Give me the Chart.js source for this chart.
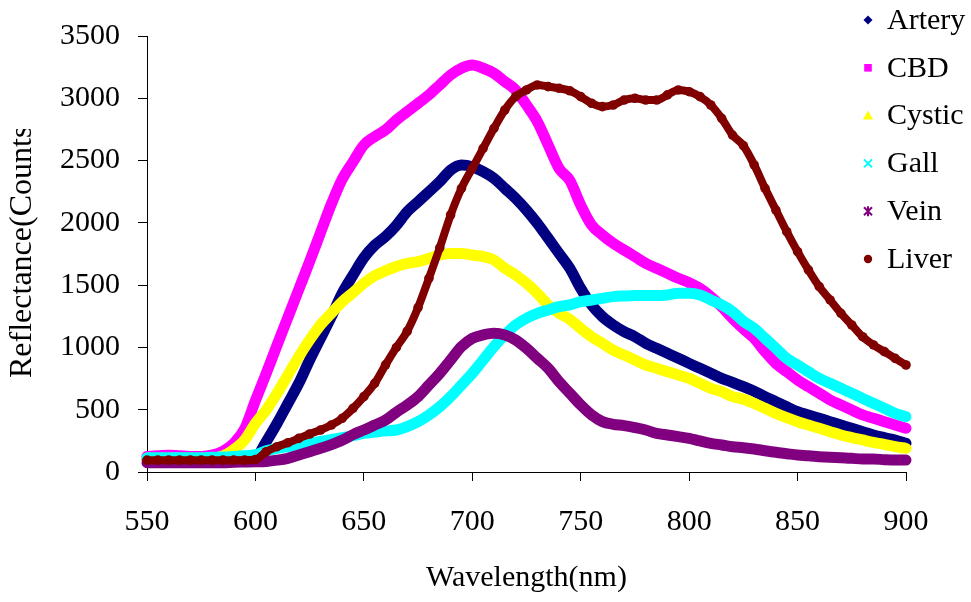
<!DOCTYPE html>
<html>
<head>
<meta charset="utf-8">
<title>Reflectance spectra</title>
<script src="https://cdn.jsdelivr.net/npm/chart.js@4.4.1/dist/chart.umd.min.js"></script>
<style>
  html, body { margin: 0; padding: 0; background: #fff; }
  canvas { display: block; }
</style>
</head>
<body>
<canvas id="chart" width="971" height="602"></canvas>
<script>
// Wavelength samples (nm)
const wavelengths = [550,555,560,565,570,575,580,585,590,595,600,605,610,615,620,625,630,635,640,645,650,655,660,665,670,675,680,685,690,695,700,705,710,715,720,725,730,735,740,745,750,755,760,765,770,775,780,785,790,795,800,805,810,815,820,825,830,835,840,845,850,855,860,865,870,875,880,885,890,895,900];

// Reflectance counts per tissue
const artery = [105,105,105,105,105,105,105,105,108,112,120,244,391,551,712,899,1073,1247,1434,1580,1720,1820,1890,1980,2090,2170,2250,2331,2424,2465,2451,2411,2357,2277,2197,2103,1996,1876,1755,1635,1474,1341,1247,1180,1127,1086,1033,993,953,913,872,832,792,752,720,685,648,605,565,524,484,458,431,404,377,351,324,297,276,257,230];
const cbd = [125,130,135,130,125,125,135,165,230,345,573,792,1020,1242,1466,1689,1920,2150,2350,2490,2625,2692,2746,2826,2893,2960,3027,3107,3187,3241,3267,3241,3201,3134,3067,2946,2813,2625,2438,2340,2143,1983,1903,1836,1782,1729,1675,1635,1595,1555,1520,1474,1408,1327,1234,1150,1073,966,872,805,739,685,632,578,538,498,458,431,404,377,351];
const cystic = [110,110,110,110,110,110,112,130,180,257,391,498,632,779,926,1060,1180,1274,1367,1440,1515,1575,1615,1650,1675,1689,1715,1742,1755,1755,1742,1729,1702,1635,1582,1515,1434,1341,1274,1225,1153,1086,1033,979,939,899,859,832,805,779,752,712,672,645,605,585,551,511,471,436,404,377,351,324,297,276,257,238,222,203,190];
const gall = [115,115,115,115,115,115,118,120,125,130,140,170,190,203,215,230,245,260,275,292,310,320,330,337,364,404,458,524,605,698,792,899,1006,1100,1180,1234,1274,1300,1327,1341,1367,1381,1394,1408,1413,1416,1416,1416,1421,1434,1434,1421,1381,1341,1287,1210,1153,1073,993,912,859,805,752,712,672,632,591,551,511,471,444];
const vein = [75,75,75,75,75,75,75,75,78,80,82,85,95,110,136,163,190,220,255,300,337,377,417,480,538,605,698,792,899,1006,1073,1100,1113,1100,1060,993,912,832,725,632,538,458,404,383,372,356,337,310,297,284,270,249,230,217,203,195,185,171,158,147,136,131,123,118,115,110,104,104,99,96,96];
const liver = [95,95,95,95,95,95,95,95,95,95,100,163,203,235,270,305,337,377,431,511,605,712,860,1000,1130,1320,1555,1800,2063,2277,2438,2598,2759,2906,3013,3067,3107,3094,3080,3060,3013,2960,2933,2946,2986,3000,2986,2986,3027,3067,3053,3013,2946,2839,2705,2620,2465,2277,2103,1929,1769,1622,1488,1381,1274,1180,1086,1020,966,912,859];

const seriesNames = ['Artery', 'CBD', 'Cystic', 'Gall', 'Vein', 'Liver'];
const seriesValues = [artery, cbd, cystic, gall, vein, liver];
const seriesColors = ['#000080', '#FF00FF', '#FFFF00', '#00FFFF', '#800080', '#800000'];
const seriesMarkers = ['diamond', 'square', 'triangle', 'cross', 'star', 'circle'];

const xTicks = [550, 600, 650, 700, 750, 800, 850, 900];
const yTicks = [0, 500, 1000, 1500, 2000, 2500, 3000, 3500];
const xTitle = 'Wavelength(nm)';
const yTitle = 'Reflectance(Counts)';

const FONT = '"Liberation Serif", "Times New Roman", Times, serif';

const datasets = seriesNames.map((name, i) => {
  const isLiver = name === 'Liver';
  return {
    label: name,
    data: wavelengths.map((w, k) => ({ x: w, y: seriesValues[i][k] })),
    borderColor: seriesColors[i],
    backgroundColor: seriesColors[i],
    borderWidth: isLiver ? 8 : 11,
    borderCapStyle: 'round',
    borderJoinStyle: 'round',
    cubicInterpolationMode: 'monotone',
    pointRadius: isLiver ? 4.8 : 0,
    pointBorderWidth: 0,
    pointBackgroundColor: seriesColors[i],
    fill: false,
    clip: false,
    // later series paint over earlier ones
    order: seriesNames.length - i
  };
});

function drawMarker(ctx, kind, x, y, color) {
  ctx.save();
  ctx.fillStyle = color;
  ctx.strokeStyle = color;
  ctx.lineWidth = 2;
  ctx.beginPath();
  const r = 4.5;
  switch (kind) {
    case 'diamond':
      ctx.moveTo(x, y - r); ctx.lineTo(x + r, y); ctx.lineTo(x, y + r); ctx.lineTo(x - r, y);
      ctx.closePath(); ctx.fill(); break;
    case 'square':
      ctx.rect(x - 3.8, y - 3.8, 7.6, 7.6); ctx.fill(); break;
    case 'triangle':
      ctx.moveTo(x, y - 5); ctx.lineTo(x + 5, y + 4); ctx.lineTo(x - 5, y + 4);
      ctx.closePath(); ctx.fill(); break;
    case 'cross':
      ctx.moveTo(x - 4, y - 4); ctx.lineTo(x + 4, y + 4);
      ctx.moveTo(x + 4, y - 4); ctx.lineTo(x - 4, y + 4); ctx.stroke(); break;
    case 'star':
      ctx.moveTo(x - 4, y - 4); ctx.lineTo(x + 4, y + 4);
      ctx.moveTo(x + 4, y - 4); ctx.lineTo(x - 4, y + 4);
      ctx.moveTo(x, y - 5); ctx.lineTo(x, y + 5); ctx.stroke(); break;
    default:
      ctx.arc(x, y, 4.2, 0, Math.PI * 2); ctx.fill();
  }
  ctx.restore();
}

// Axis titles and the series key, drawn over the finished chart
const decorations = {
  id: 'decorations',
  afterDraw(chart) {
    const ctx = chart.ctx;
    const area = chart.chartArea;
    ctx.save();
    ctx.fillStyle = '#000';
    ctx.textBaseline = 'middle';

    // x title
    ctx.font = '30px ' + FONT;
    ctx.textAlign = 'center';
    ctx.fillText(xTitle, (area.left + area.right) / 2, 578);

    // y title, clipped at the top like the original frame
    ctx.save();
    ctx.beginPath();
    ctx.rect(0, 129, 60, 460);
    ctx.clip();
    ctx.translate(23, 378);
    ctx.rotate(-Math.PI / 2);
    ctx.font = '32px ' + FONT;
    ctx.textAlign = 'left';
    ctx.fillText(yTitle, 0, 0);
    ctx.restore();

    // key
    ctx.font = '30px ' + FONT;
    ctx.textAlign = 'left';
    seriesNames.forEach((name, i) => {
      const y = 20 + i * 47.8;
      drawMarker(ctx, seriesMarkers[i], 868, y, seriesColors[i]);
      ctx.fillStyle = '#000';
      ctx.fillText(name, 887, y + 1);
    });
    ctx.restore();
  }
};

new Chart(document.getElementById('chart'), {
  type: 'line',
  data: { datasets },
  plugins: [decorations],
  options: {
    responsive: false,
    animation: false,
    devicePixelRatio: 1,
    layout: { padding: { left: 0, right: 65, top: 36, bottom: 0 } },
    plugins: {
      legend: { display: false },
      tooltip: { enabled: false },
      title: { display: false }
    },
    scales: {
      x: {
        type: 'linear',
        min: 550,
        max: 900,
        afterBuildTicks: (scale) => { scale.ticks = xTicks.map(v => ({ value: v })); },
        afterFit: (scale) => { scale.height = 130; },
        ticks: {
          color: '#000',
          font: { family: FONT, size: 30 },
          padding: 23,
          maxRotation: 0,
          autoSkip: false,
          callback: (v) => String(v)
        },
        grid: { display: true, drawOnChartArea: false, drawTicks: true, tickLength: 9, color: '#000', lineWidth: 1 },
        border: { display: true, color: '#000', width: 1 }
      },
      y: {
        type: 'linear',
        min: 0,
        max: 3500,
        afterBuildTicks: (scale) => { scale.ticks = yTicks.map(v => ({ value: v })); },
        afterFit: (scale) => { scale.width = 147; },
        ticks: {
          color: '#000',
          font: { family: FONT, size: 30 },
          padding: 18,
          autoSkip: false,
          callback: (v) => String(v)
        },
        grid: { display: true, drawOnChartArea: false, drawTicks: true, tickLength: 9, color: '#000', lineWidth: 1 },
        border: { display: true, color: '#000', width: 1 }
      }
    }
  }
});
</script>
</body>
</html>
